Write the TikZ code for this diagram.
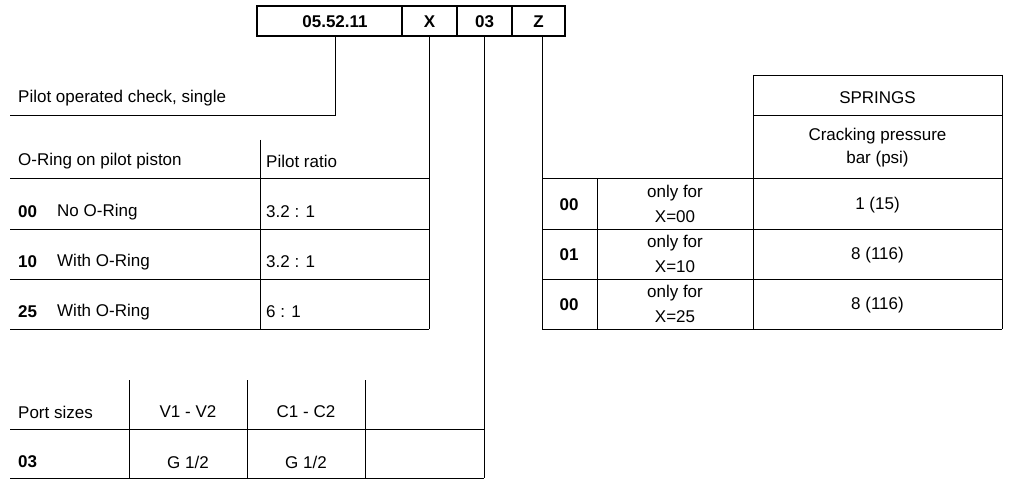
\documentclass[tikz,border=0pt]{standalone}
\usepackage{fontspec}
\setmainfont{Liberation Sans}
\begin{document}
\begin{tikzpicture}[x=1pt,y=-1pt,
  ln/.style={line width=0.8pt},
  tx/.style={font=\fontsize{17}{18}\selectfont,inner sep=0pt},
  bx/.style={font=\fontsize{17}{18}\selectfont\bfseries,inner sep=0pt}]
\useasboundingbox (0,0) rectangle (1009,484);
% header
\draw[line width=2.4pt] (257,6) rectangle (565,36);
\draw[line width=2.4pt] (402,6) -- (402,36) (457,6) -- (457,36) (512,6) -- (512,36);
\node[bx] (h1) at (335,22) {05.52.11};
\node[bx] (h2) at (429.5,22) {X};
\node[bx] (h3) at (484.5,22) {03};
\node[bx] (h4) at (538.5,22) {Z};
\coordinate (c1) at (335,37);
\coordinate (c2) at (429,37);
\coordinate (c3) at (484,37);
\coordinate (c4) at (542,37);
% connectors
\draw[ln] (c1) -- (335,115) -- (10,115);
\draw[ln] (c2) -- (429,329);
\draw[ln] (c3) -- (484,478);
\draw[ln] (c4) -- (542,329);
\node[tx,anchor=west] (p) at (18,98) {Pilot operated check, single};
% left table
\draw[ln] (10,178) -- (429,178) (10,229) -- (429,229) (10,279) -- (429,279) (10,329) -- (429,329);
\draw[ln] (260,140) -- (260,329);
\node[tx,anchor=west] (o1) at (18,161) {O-Ring on pilot piston};
\node[tx,anchor=west] (o2) at (266,161) {Pilot ratio};
\foreach \y/\c/\t/\r in {212/00/No O-Ring/3.2 : 1, 262/10/With O-Ring/3.2 : 1, 312/25/With O-Ring/6 : 1}{
  \node[bx,anchor=west] at (18,\y) {\c};
  \node[tx,anchor=west] at (57,\y) {\t};
  \node[tx,anchor=west] at (266,\y) {\r};
}
% port table
\draw[ln] (10,429) -- (484,429) (10,478) -- (484,478);
\draw[ln] (129,380) -- (129,478) (247,380) -- (247,478) (365,380) -- (365,478);
\node[tx,anchor=west] (ps) at (18,412) {Port sizes};
\node[tx] (v) at (188,412) {V1 - V2};
\node[tx] (cc) at (306,412) {C1 - C2};
\node[bx,anchor=west] (r3) at (18,462) {03};
\node[tx] (g1) at (188,462) {G 1/2};
\node[tx] (g2) at (306,462) {G 1/2};
% right table
\draw[ln] (753,75) -- (1002,75) (753,115) -- (1002,115);
\draw[ln] (542,178) -- (1002,178) (542,229) -- (1002,229) (542,279) -- (1002,279) (542,329) -- (1002,329);
\draw[ln] (597,178) -- (597,329) (753,75) -- (753,329) (1002,75) -- (1002,329);
\node[tx] (sp) at (877.5,98) {SPRINGS};
\node[tx] (cp) at (877.5,136) {Cracking pressure};
\node[tx] (bp) at (877.5,159) {bar (psi)};
\foreach \y/\c/\x/\v in {205/00/00/1 (15), 255/01/10/8 (116), 305/00/25/8 (116)}{
  \node[bx] at (569,\y) {\c};
  \node[tx] at (675,\y-12) {only for};
  \node[tx] at (675,\y+12) {X=\x};
  \node[tx] at (877.5,\y) {\v};
}
\end{tikzpicture}
\end{document}
